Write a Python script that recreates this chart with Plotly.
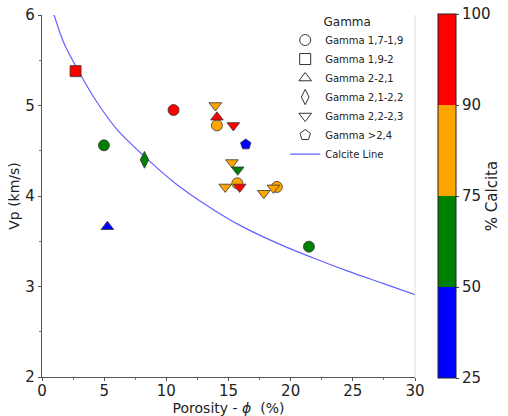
import plotly.graph_objects as go

# ---------------- data ----------------
gamma_names = ["Gamma 1,7-1,9", "Gamma 1,9-2", "Gamma 2-2,1", "Gamma 2,1-2,2",
               "Gamma 2,2-2,3", "Gamma >2,4"]
gamma_symbols = ["circle", "square", "triangle-up", "diamond-tall",
                 "triangle-down", "pentagon"]

# calcite band index: 0 = 25-50 %, 1 = 50-75 %, 2 = 75-90 %, 3 = 90-100 %
por_g1 = [10.58, 4.98, 14.07, 15.71, 18.89, 21.47]
vp_g1 = [4.95, 4.56, 4.78, 4.14, 4.10, 3.44]
band_g1 = [3, 1, 2, 2, 2, 1]

por_g2 = [2.70]
vp_g2 = [5.38]
band_g2 = [3]

por_g3 = [5.26, 14.07]
vp_g3 = [3.66, 4.87]
band_g3 = [0, 3]

por_g4 = [8.24]
vp_g4 = [4.40]
band_g4 = [1]

por_g5 = [13.94, 15.39, 15.28, 15.74, 14.74, 15.90, 17.84, 18.61]
vp_g5 = [5.00, 4.78, 4.37, 4.29, 4.10, 4.10, 4.03, 4.09]
band_g5 = [2, 3, 2, 1, 2, 3, 2, 2]

por_g6 = [16.39]
vp_g6 = [4.57]
band_g6 = [0]

calcite_por = [0.95, 1.76, 3.10, 4.45, 6.06, 8.21, 10.63, 13.32, 16.0, 19.23, 21.92, 24.6, 27.3, 30.0]
calcite_vp = [6.01, 5.69, 5.34, 5.03, 4.73, 4.44, 4.15, 3.89, 3.67, 3.46, 3.31, 3.17, 3.04, 2.91]

band_colors = ["#0000ff", "#008000", "#ffa500", "#ff0000"]
band_ticks = ["25", "50", "75", "90", "100"]

groups = [(por_g1, vp_g1, band_g1), (por_g2, vp_g2, band_g2), (por_g3, vp_g3, band_g3),
          (por_g4, vp_g4, band_g4), (por_g5, vp_g5, band_g5), (por_g6, vp_g6, band_g6)]

# ---------------- figure ----------------
n = len(band_colors)
colorscale = []
for i, c in enumerate(band_colors):
    colorscale.append([i / n, c])
    colorscale.append([(i + 1) / n, c])

FONT = "DejaVu Sans"
fig = go.Figure()

sizes = {"circle": 11, "square": 11, "triangle-up": 11, "diamond-tall": 12,
         "triangle-down": 11, "pentagon": 11}

# calcite line (drawn first, under markers)
fig.add_trace(go.Scatter(x=calcite_por, y=calcite_vp, mode="lines", name="Calcite Line",
                         line=dict(color="rgba(70,70,255,0.85)", width=1.2,
                                   shape="spline", smoothing=0.8),
                         showlegend=False, hoverinfo="skip"))

for k, ((px, py, pb), sym) in enumerate(zip(groups, gamma_symbols)):
    fig.add_trace(go.Scatter(
        x=px, y=py, mode="markers", showlegend=False,
        marker=dict(symbol=sym, size=sizes[sym],
                    color=[b + 0.5 for b in pb], cmin=0, cmax=n,
                    colorscale=colorscale,
                    line=dict(color="#333333", width=0.8),
                    showscale=(k == 0),
                    colorbar=dict(
                        x=1.0616, xanchor="left", xref="paper", xpad=0,
                        y=0.5, yanchor="middle", ypad=0,
                        len=364, lenmode="pixels",
                        thickness=18, thicknessmode="pixels",
                        outlinewidth=1, outlinecolor="#222222",
                        tickvals=list(range(n + 1)), ticktext=band_ticks,
                        ticks="outside", ticklen=3, tickcolor="#444444",
                        tickfont=dict(family=FONT, size=15, color="#222222"),
                        title=dict(text="% Calcita", side="right",
                                   font=dict(family=FONT, size=15, color="#222222")),
                    ))))

# legend entries (open black symbols)
for name, sym in zip(gamma_names, gamma_symbols):
    fig.add_trace(go.Scatter(x=[None], y=[None], mode="markers", name=name,
                             marker=dict(symbol=sym + "-open", size=11, color="#333333",
                                         line=dict(width=1))))
fig.add_trace(go.Scatter(x=[None], y=[None], mode="lines", name="Calcite Line",
                         line=dict(color="rgba(70,70,255,0.85)", width=1.2)))

axis_common = dict(showgrid=False, zeroline=False, showline=True, linecolor="#555555",
                   linewidth=1.2, ticks="outside", ticklen=3, tickcolor="#555555",
                   automargin=False,
                   tickfont=dict(family=FONT, size=15, color="#222222"))

fig.update_layout(
    width=508, height=416,
    margin=dict(l=41.5, r=93, t=15, b=39, autoexpand=False),
    paper_bgcolor="white", plot_bgcolor="white",
    font=dict(family=FONT, color="#222222"),
    xaxis=dict(range=[0, 30], dtick=5, tick0=0, ticklabelstandoff=-3,
               minor=dict(dtick=2.5, ticks="outside", ticklen=2, tickcolor="#777777"),
               title=dict(text="Porosity - <i>ϕ</i>  (%)", standoff=1,
                          font=dict(family=FONT, size=14, color="#222222")),
               **axis_common),
    yaxis=dict(range=[2, 6], dtick=1, tick0=2,
               minor=dict(dtick=0.5, ticks="outside", ticklen=2, tickcolor="#777777"),
               title=dict(text="Vp (km/s)", standoff=2,
                          font=dict(family=FONT, size=14, color="#222222")),
               **axis_common),
    legend=dict(x=0.652, y=1.014, xanchor="left", yanchor="top",
                bgcolor="rgba(255,255,255,0)", borderwidth=0,
                font=dict(family=FONT, size=10, color="#222222"),
                title=dict(text="Gamma", side="top center",
                           font=dict(family=FONT, size=12, color="#222222")),
                tracegroupgap=0, itemwidth=30),
    shapes=[dict(type="line", xref="paper", yref="paper", x0=1, x1=1, y0=0, y1=1,
                 line=dict(color="#dddddd", width=1))],
)

fig.write_html("out.html", config={"displayModeBar": False})

# remove the browser's default body margin so the figure sits at the page origin
with open("out.html", "r", encoding="utf-8") as f:
    html = f.read()
html = html.replace("<body>", '<body style="margin:0;padding:0;">', 1)
with open("out.html", "w", encoding="utf-8") as f:
    f.write(html)
